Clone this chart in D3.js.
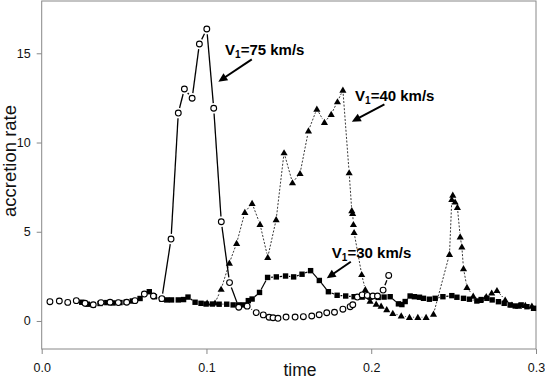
<!DOCTYPE html>
<html>
<head>
<meta charset="utf-8">
<script src="https://cdn.jsdelivr.net/npm/d3@7"></script>
<style>
  html, body { margin: 0; padding: 0; background: #fff; }
  svg { display: block; font-family: "Liberation Sans", Arial, Helvetica, sans-serif; }
</style>
</head>
<body>
<svg id="chart" width="545" height="379"></svg>
<script>
// ---------- data ----------
const t75 = [0.0050,0.0107,0.0158,0.0210,0.0263,0.0313,0.0360,0.0415,0.0465,0.0516,0.0566,0.0623,0.0678,0.0729,0.0785,0.0829,0.0866,0.0913,0.0957,0.1002,0.1044,0.1090,0.1140,0.1196,0.1247,0.1302,0.1345,0.1380,0.1404,0.1434,0.1483,0.1538,0.1588,0.1639,0.1684,0.1730,0.1777,0.1828,0.1872,0.1888,0.1916,0.1945,0.1976,0.2010,0.2038,0.2072,0.2106];
const y75 = [1.08,1.12,1.04,1.14,0.99,0.91,1.03,1.05,1.03,1.05,1.14,1.51,1.40,1.25,4.59,11.65,13.0,12.48,15.52,16.36,11.92,5.56,2.15,0.77,0.83,0.47,0.34,0.21,0.18,0.15,0.22,0.22,0.24,0.28,0.35,0.46,0.49,0.66,0.80,0.91,1.34,1.46,1.43,1.40,1.40,1.73,2.55];

const t40 = [0.1004,0.1052,0.1089,0.1139,0.1183,0.1233,0.1277,0.1325,0.1372,0.1423,0.1471,0.1522,0.1568,0.1619,0.1670,0.1716,0.1757,0.1795,0.1828,0.1866,0.1882,0.1887,0.1892,0.1896,0.1942,0.1964,0.1993,0.2030,0.2060,0.2094,0.2131,0.2182,0.2232,0.2283,0.2333,0.2378,0.2475,0.2489,0.2495,0.2509,0.2523,0.2540,0.2550,0.2560,0.2581,0.2619,0.2661,0.2698,0.2731,0.2763,0.2813,0.2854,0.2894,0.2935,0.2975];
const y40 = [1.01,1.01,1.78,3.25,4.35,6.09,6.59,5.42,3.57,5.68,9.43,7.75,8.27,10.66,11.88,11.13,11.58,12.29,12.94,8.31,6.19,6.03,5.41,4.96,2.61,1.76,1.12,0.95,0.84,0.64,0.43,0.29,0.21,0.21,0.21,0.39,3.74,6.81,7.06,6.67,6.37,4.72,4.16,2.94,1.89,1.40,1.15,1.37,1.57,1.71,1.18,0.90,0.84,0.88,0.84];

const t30 = [0.0243,0.0277,0.0313,0.0354,0.0395,0.0433,0.0475,0.0512,0.0550,0.0597,0.0653,0.0684,0.0729,0.0759,0.0788,0.0829,0.0861,0.0888,0.0931,0.0967,0.0998,0.1036,0.1077,0.1123,0.1162,0.1195,0.1224,0.1254,0.1277,0.1322,0.1371,0.1424,0.1480,0.1529,0.1580,0.1632,0.1685,0.1740,0.1793,0.1845,0.1896,0.1945,0.1993,0.2042,0.2078,0.2115,0.2165,0.2186,0.2206,0.2236,0.2262,0.2293,0.2317,0.2353,0.2388,0.2435,0.2489,0.2520,0.2560,0.2596,0.2641,0.2667,0.2702,0.2734,0.2772,0.2807,0.2843,0.2874,0.2910,0.2945,0.2985];
const y30 = [1.05,0.94,0.90,0.98,1.03,1.01,1.03,1.05,1.12,1.26,1.64,1.36,1.23,1.18,1.18,1.18,1.20,1.34,1.05,0.99,0.95,0.95,0.94,0.94,0.90,0.90,0.90,1.14,1.23,1.60,2.44,2.47,2.52,2.47,2.62,2.82,2.27,1.64,1.44,1.40,1.36,1.34,1.33,1.32,1.34,1.36,0.96,0.92,1.09,1.40,1.36,1.33,1.27,1.22,1.27,1.36,1.42,1.33,1.27,1.22,1.12,1.20,1.27,1.18,1.08,0.99,0.90,0.84,0.90,0.80,0.71];

const xTicks = [0, 0.1, 0.2, 0.3];
const xTickLabels = ["0.0", "0.1", "0.2", "0.3"];
const yTicks = [0, 5, 10, 15];

const labelNames = ["75", "40", "30"];
const labelT = [0.1113, 0.1902, 0.1761];
const labelY = [14.93, 12.35, 3.51];
const arrowT0 = [0.1275, 0.2080, 0.1876];
const arrowY0 = [14.66, 12.14, 3.32];
const arrowT1 = [0.1072, 0.1882, 0.1730];
const arrowY1 = [13.41, 11.17, 2.39];

// ---------- scales ----------
const svg = d3.select("#chart");
const x = d3.scaleLinear().domain([0, 0.3]).range([41.7, 536]);
const y = d3.scaleLinear().domain([-1.57, 17.93]).range([349, 1]);

// frame
svg.append("rect")
  .attr("x", x(0)).attr("y", y(17.93))
  .attr("width", x(0.3) - x(0)).attr("height", y(-1.57) - y(17.93))
  .attr("fill", "none").attr("stroke", "#888").attr("stroke-width", 1);

// axes
const gx = svg.append("g").attr("transform", `translate(0,${y(-1.57)})`)
  .call(d3.axisBottom(x).tickValues(xTicks).tickFormat((d, i) => xTickLabels[i]).tickSize(5).tickPadding(9));
const gy = svg.append("g").attr("transform", `translate(${x(0)},0)`)
  .call(d3.axisLeft(y).tickValues(yTicks).tickSize(5).tickPadding(6));
[gx, gy].forEach(g => {
  g.select(".domain").remove();
  g.selectAll(".tick line").attr("stroke", "#888");
  g.selectAll(".tick text").attr("fill", "#111").style("font-size", "12.5px")
    .style("font-family", '"Liberation Sans", Arial, sans-serif');
});

// axis titles
svg.append("text").attr("transform", `translate(16,${(y(17.93) + y(-1.57)) / 2 - 14}) rotate(-90)`)
  .attr("text-anchor", "middle").style("font-size", "18.5px").attr("fill", "#111").text("accretion rate");
svg.append("text").attr("x", 300).attr("y", 375.5)
  .attr("text-anchor", "middle").style("font-size", "17.5px").attr("fill", "#111").text("time");

// helper: segments with gaps around markers
function gapSegments(ts, ys, gap) {
  const pts = ts.map((t, i) => [x(t), y(ys[i])]);
  const out = [];
  for (let i = 0; i < pts.length - 1; i++) {
    const [x0, y0] = pts[i], [x1, y1] = pts[i + 1];
    const dx = x1 - x0, dy = y1 - y0, len = Math.hypot(dx, dy);
    if (len > 2 * gap + 0.5) {
      const ux = dx / len, uy = dy / len;
      out.push([x0 + ux * gap, y0 + uy * gap, x1 - ux * gap, y1 - uy * gap]);
    }
  }
  return out;
}

const plot = svg.append("g");

// V1=40 : dotted line + filled triangles
plot.append("g").selectAll("line").data(gapSegments(t40, y40, 3.8)).join("line")
  .attr("x1", d => d[0]).attr("y1", d => d[1]).attr("x2", d => d[2]).attr("y2", d => d[3])
  .attr("stroke", "#222").attr("stroke-width", 0.9).attr("stroke-dasharray", "2,1.6");
plot.append("g").selectAll("path").data(t40).join("path")
  .attr("d", d3.symbol(d3.symbolTriangle).size(22))
  .attr("transform", (d, i) => `translate(${x(d)},${y(y40[i]) + 0.6})`)
  .attr("fill", "#000");

// V1=30 : solid line + filled squares
plot.append("g").selectAll("line").data(gapSegments(t30, y30, 3.4)).join("line")
  .attr("x1", d => d[0]).attr("y1", d => d[1]).attr("x2", d => d[2]).attr("y2", d => d[3])
  .attr("stroke", "#000").attr("stroke-width", 1.2);
plot.append("g").selectAll("rect").data(t30).join("rect")
  .attr("x", d => x(d) - 2.7).attr("y", (d, i) => y(y30[i]) - 2.7)
  .attr("width", 5.4).attr("height", 5.4).attr("fill", "#000");

// V1=75 : solid line + open circles
plot.append("g").selectAll("line").data(gapSegments(t75, y75, 5.2)).join("line")
  .attr("x1", d => d[0]).attr("y1", d => d[1]).attr("x2", d => d[2]).attr("y2", d => d[3])
  .attr("stroke", "#000").attr("stroke-width", 1.3);
plot.append("g").selectAll("circle").data(t75).join("circle")
  .attr("cx", d => x(d)).attr("cy", (d, i) => y(y75[i])).attr("r", 2.9)
  .attr("fill", "#fff").attr("stroke", "#000").attr("stroke-width", 1.1);

// annotations
const ann = svg.append("g");
labelNames.forEach((name, i) => {
  const tx = ann.append("text").attr("x", x(labelT[i])).attr("y", y(labelY[i]))
    .style("font-size", "15px").style("font-weight", "bold").attr("fill", "#000");
  tx.append("tspan").text("V");
  tx.append("tspan").attr("dy", 3).style("font-size", "10px").text("1");
  tx.append("tspan").attr("dy", -3).text("=" + name + " km/s");

  const x0 = x(arrowT0[i]), y0 = y(arrowY0[i]), x1 = x(arrowT1[i]), y1 = y(arrowY1[i]);
  const dx = x1 - x0, dy = y1 - y0, len = Math.hypot(dx, dy), ux = dx / len, uy = dy / len;
  const hl = 9, hw = 4.2;
  const bx = x1 - ux * hl, by = y1 - uy * hl;
  ann.append("line").attr("x1", x0).attr("y1", y0).attr("x2", bx + ux).attr("y2", by + uy)
    .attr("stroke", "#000").attr("stroke-width", 2);
  ann.append("path")
    .attr("d", `M${x1},${y1}L${bx - uy * hw},${by + ux * hw}L${bx + uy * hw},${by - ux * hw}Z`)
    .attr("fill", "#000");
});
</script>
</body>
</html>
